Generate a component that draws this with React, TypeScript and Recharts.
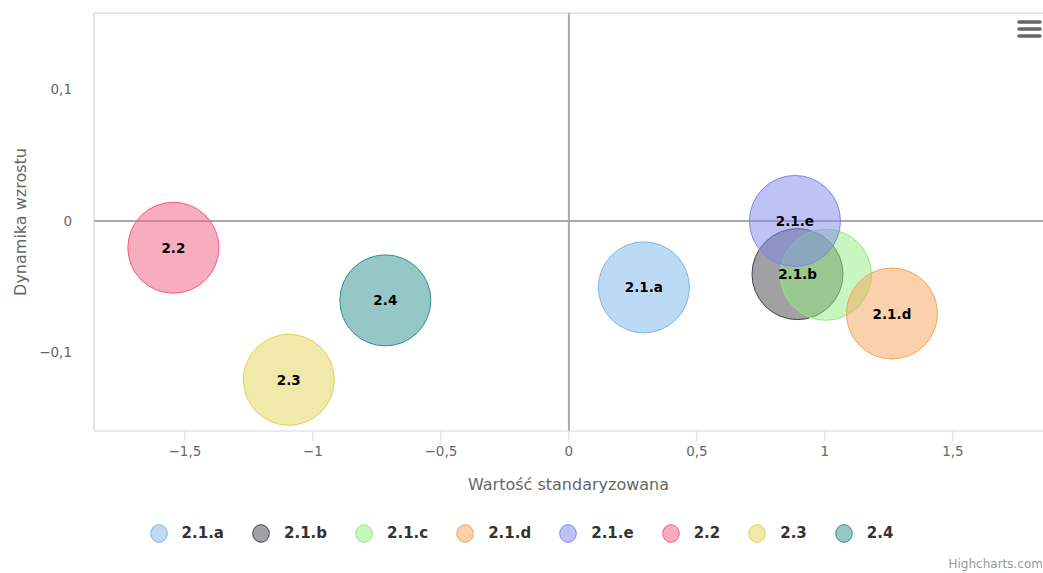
import React from "react";
import {
  ScatterChart,
  Scatter,
  XAxis,
  YAxis,
  ReferenceLine,
  Label,
} from "recharts";

// Dane (jedna bańka na serię)
const seriesNames = ["2.1.a", "2.1.b", "2.1.c", "2.1.d", "2.1.e", "2.2", "2.3", "2.4"];
const xValues = [0.293, 0.893, 1.004, 1.262, 0.883, -1.545, -1.094, -0.717];
const yValues = [-0.0506, -0.0405, -0.041, -0.0705, 0.0, -0.0204, -0.121, -0.0605];
const xTicks = [-1.5, -1, -0.5, 0, 0.5, 1, 1.5];
const yTicks = [-0.1, 0, 0.1];
// etykieta ukryta przez Highcharts (nakłada się na 2.1.b)
const hiddenLabels = ["2.1.c"];

// Domyślna paleta Highcharts
const seriesColors = ["#7cb5ec", "#434348", "#90ed7d", "#f7a35c", "#8085e9", "#f15c80", "#e4d354", "#2b908f"];

const X_DOMAIN: [number, number] = [-1.855, 1.852];
const Y_DOMAIN: [number, number] = [-0.16, 0.1584];
const BUBBLE_R = 45.5;
const FONT = "'DejaVu Sans', sans-serif";

const series = seriesNames.map((name, i) => ({
  name,
  color: seriesColors[i],
  data: [{ x: xValues[i], y: yValues[i], label: name }],
}));

const labelPoints = series.flatMap((s) => s.data).filter((d) => !hiddenLabels.includes(d.label));

const fmt = (v: number) => String(v).replace(".", ",").replace("-", "\u2212");

export default function App() {
  return (
    <div
      style={{
        position: "absolute",
        left: 0,
        top: 0,
        width: 1043,
        height: 573,
        fontFamily: FONT,
        background: "#fff",
        overflow: "hidden",
      }}
    >
      <ScatterChart width={1043} height={573} margin={{ top: 13, right: 0, bottom: 0, left: 0 }}>
        <XAxis
          type="number"
          dataKey="x"
          domain={X_DOMAIN}
          ticks={xTicks}
          allowDataOverflow
          height={142}
          tickSize={10}
          tickMargin={5}
          tickFormatter={fmt}
          tick={{ fill: "#666666", fontSize: 13.5, fontFamily: FONT }}
          tickLine={{ stroke: "#ccd6eb" }}
          axisLine={{ stroke: "#ccd6eb" }}
        >
          <Label
            content={(p: any) => {
              const vb = p.viewBox;
              return (
                <text
                  x={vb.x + vb.width / 2}
                  y={vb.y + 53}
                  textAnchor="middle"
                  dominantBaseline="central"
                  fill="#666666"
                  fontSize={16}
                  fontFamily={FONT}
                >
                  Wartość standaryzowana
                </text>
              );
            }}
          />
        </XAxis>
        <YAxis
          type="number"
          dataKey="y"
          domain={Y_DOMAIN}
          ticks={yTicks}
          allowDataOverflow
          width={94}
          tickSize={0}
          tickMargin={22}
          tickFormatter={fmt}
          tick={{ fill: "#666666", fontSize: 13.5, fontFamily: FONT }}
          tickLine={false}
          axisLine={{ stroke: "#cccccc" }}
        >
          <Label
            content={(p: any) => {
              const vb = p.viewBox;
              const cx = vb.x + 20;
              const cy = vb.y + vb.height / 2;
              return (
                <text
                  x={cx}
                  y={cy}
                  transform={`rotate(-90, ${cx}, ${cy})`}
                  textAnchor="middle"
                  dominantBaseline="central"
                  fill="#666666"
                  fontSize={16}
                  fontFamily={FONT}
                >
                  Dynamika wzrostu
                </text>
              );
            }}
          />
        </YAxis>

        {/* górna ramka obszaru wykresu */}
        <ReferenceLine y={Y_DOMAIN[1]} stroke="#cccccc" strokeWidth={1} ifOverflow="extendDomain" />
        {/* linie zerowe */}
        <ReferenceLine x={0} stroke="#aaaaaa" strokeWidth={2} />
        <ReferenceLine y={0} stroke="#aaaaaa" strokeWidth={2} />

        {series.map((s) => (
          <Scatter
            key={s.name}
            name={s.name}
            data={s.data}
            isAnimationActive={false}
            shape={(p: any) => (
              <circle
                cx={p.cx}
                cy={p.cy}
                r={BUBBLE_R}
                fill={s.color}
                fillOpacity={0.5}
                stroke={s.color}
                strokeWidth={1}
              />
            )}
          />
        ))}

        {/* etykiety nad wszystkimi bańkami */}
        <Scatter
          data={labelPoints}
          isAnimationActive={false}
          shape={(p: any) => (
            <text
              x={p.cx}
              y={p.cy}
              textAnchor="middle"
              dominantBaseline="central"
              fill="#000000"
              fontSize={13.5}
              fontWeight="bold"
              fontFamily={FONT}
            >
              {p.payload.label}
            </text>
          )}
        />
      </ScatterChart>

      {/* legenda */}
      <div
        style={{
          position: "absolute",
          left: 0,
          top: 521,
          width: 1043,
          height: 24,
          display: "flex",
          justifyContent: "center",
          alignItems: "center",
          gap: 28,
        }}
      >
        {series.map((s) => (
          <div key={s.name} style={{ display: "flex", alignItems: "center" }}>
            <svg width={18} height={19} style={{ marginRight: 14 }}>
              <ellipse
                cx={9}
                cy={9.5}
                rx={8.3}
                ry={8.8}
                fill={s.color}
                fillOpacity={0.5}
                stroke={s.color}
                strokeWidth={1}
              />
            </svg>
            <span style={{ fontSize: 15, fontWeight: "bold", color: "#333333", lineHeight: "24px" }}>
              {s.name}
            </span>
          </div>
        ))}
      </div>

      {/* menu eksportu */}
      <svg style={{ position: "absolute", left: 1012, top: 16 }} width={32} height={26}>
        {[6, 13, 20].map((y) => (
          <line key={y} x1={7} x2={28} y1={y} y2={y} stroke="#666666" strokeWidth={3.5} strokeLinecap="round" />
        ))}
      </svg>

      {/* podpis */}
      <div
        style={{
          position: "absolute",
          right: 0,
          top: 557,
          fontSize: 12,
          color: "#999999",
          lineHeight: "14px",
          whiteSpace: "nowrap",
        }}
      >
        Highcharts.com
      </div>
    </div>
  );
}
